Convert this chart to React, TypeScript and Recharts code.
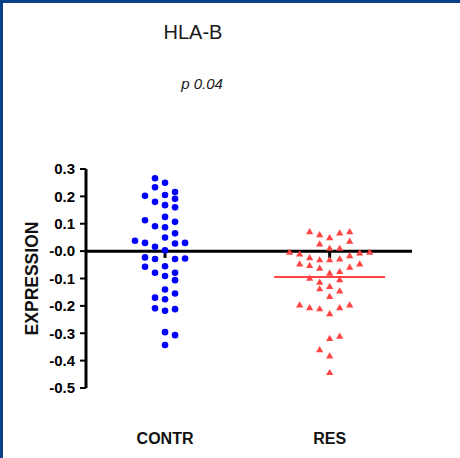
import React from "react";
import {
  ReferenceLine,
  Scatter,
  ScatterChart,
  XAxis,
  YAxis,
} from "recharts";

const categories = ["CONTR", "RES"];

// expression values
const contrValues = [
  0.266, 0.25, 0.233, 0.202, 0.205, 0.216, 0.18, 0.168, 0.191, 0.16, 0.113,
  0.091, 0.125, 0.087, 0.107, 0.065, 0.05, 0.038, 0.03, 0.016, 0.028, 0.03,
  0.003, -0.023, -0.029, -0.029, -0.027, -0.057, -0.055, -0.079, -0.091,
  -0.079, -0.106, -0.14, -0.155, -0.17, -0.176, -0.209, -0.218, -0.212,
  -0.296, -0.307, -0.343,
];
// column slot of each point inside the scatter (left/right of centre)
const contrSlots = [
  -1, 0, -1, -2, 0, 1, -1, 0, 1, 1, -2, -1, 0, 0, 1, 1, 0, -3, -2, -1, 1, 2,
  0, -2, -1, 1, 2, -2, 0, -1, 0, 1, 1, 0, 1, -1, 0, -1, 0, 1, 0, 1, 0,
];

const resValues = [
  0.073, 0.062, 0.051, 0.068, 0.073, 0.028, 0.038, 0.012, 0.012, -0.002,
  -0.009, -0.022, -0.03, -0.03, -0.027, -0.015, -0.005, -0.002, -0.045,
  -0.051, -0.061, -0.073, -0.057, -0.045, -0.079, -0.097, -0.112, -0.127,
  -0.103, -0.136, -0.144, -0.164, -0.195, -0.205, -0.209, -0.227, -0.205,
  -0.195, -0.317, -0.309, -0.358, -0.381, -0.442,
];
const resSlots = [
  -2, -1, 0, 1, 2, -1, 2, 0, 1, -4, -3, -2, -1, 0, 1, 2, 3, 4, -3, -2, -1, 1,
  2, 3, 0, -2, -1, 0, 1, -1, 1, 0, -3, -2, -1, 0, 1, 2, 0, 1, -1, 0, 0,
];

const yTicks = [0.3, 0.2, 0.1, 0, -0.1, -0.2, -0.3, -0.4, -0.5];

const SLOT = 0.0608;
const FONT = "'Liberation Sans', Arial, Helvetica, sans-serif";

const contrData = contrValues.map((v, i) => ({ x: 1 + contrSlots[i] * SLOT, y: v }));
const resData = resValues.map((v, i) => ({ x: 2 + resSlots[i] * SLOT, y: v }));
const resMean = resValues.reduce((a, b) => a + b, 0) / resValues.length;

const Triangle = (props: any) => {
  const { cx, cy } = props;
  if (cx == null || cy == null) return null;
  return (
    <polygon
      points={`${cx},${cy - 3.2} ${cx + 3.6},${cy + 3} ${cx - 3.6},${cy + 3}`}
      fill="#ff4444"
    />
  );
};

const Dot = (props: any) => {
  const { cx, cy } = props;
  if (cx == null || cy == null) return null;
  return <circle cx={cx} cy={cy} r={3.3} fill="#0000ff" />;
};

const CategoryTick = (props: any) => {
  const { x, y, payload } = props;
  return (
    <text
      x={x}
      y={y + 56}
      textAnchor="middle"
      fontFamily={FONT}
      fontWeight="bold"
      fontSize={16}
      fill="#111"
    >
      {categories[payload.value - 1]}
    </text>
  );
};

const AxisTitle = (props: any) => {
  const { viewBox } = props;
  const cx = viewBox.x + 32;
  const cy = viewBox.y + viewBox.height / 2;
  return (
    <text
      x={cx}
      y={cy}
      transform={`rotate(-90, ${cx}, ${cy})`}
      textAnchor="middle"
      dominantBaseline="central"
      fontFamily={FONT}
      fontWeight="bold"
      fontSize={17.5}
      fill="#111"
    >
      EXPRESSION
    </text>
  );
};

export default function App() {
  return (
    <div
      style={{
        position: "absolute",
        left: 0,
        top: 0,
        width: 460,
        height: 458,
        background: "#fff",
        overflow: "hidden",
      }}
    >
      <div style={{ position: "absolute", left: 0, top: 0, width: 460, height: 3, background: "#0b3f86" }} />
      <div style={{ position: "absolute", left: 0, top: 0, width: 3, height: 458, background: "#0b3f86" }} />
      <div
        style={{
          position: "absolute",
          left: 143,
          top: 22,
          width: 100,
          textAlign: "center",
          fontFamily: FONT,
          fontSize: 20,
          lineHeight: "20px",
          color: "#1a1a1a",
        }}
      >
        HLA-B
      </div>
      <div
        style={{
          position: "absolute",
          left: 152,
          top: 76,
          width: 100,
          textAlign: "center",
          fontFamily: FONT,
          fontSize: 15,
          fontStyle: "italic",
          lineHeight: "15px",
          color: "#1a1a1a",
        }}
      >
        p 0.04
      </div>
      <div style={{ position: "absolute", left: 0, top: 0 }}>
        <ScatterChart
          width={460}
          height={458}
          margin={{ top: 169, right: 48, bottom: 0, left: 0 }}
        >
          <XAxis
            type="number"
            dataKey="x"
            domain={[0.52, 2.5]}
            ticks={[1, 2]}
            axisLine={false}
            tickLine={false}
            tickSize={0}
            tickMargin={0}
            height={70}
            tick={<CategoryTick />}
          />
          <YAxis
            type="number"
            dataKey="y"
            domain={[-0.5, 0.3]}
            ticks={yTicks}
            width={86}
            axisLine={{ stroke: "#000", strokeWidth: 3 }}
            tickLine={{ stroke: "#000", strokeWidth: 2 }}
            tickSize={6}
            tickMargin={5}
            tick={{ fill: "#000", fontFamily: FONT, fontWeight: "bold", fontSize: 15 }}
            tickFormatter={(v: number) => (v === 0 ? "-0.0" : v.toFixed(1))}
            label={<AxisTitle />}
          />
          <ReferenceLine y={0} stroke="#000" strokeWidth={3} />
          <ReferenceLine
            segment={[{ x: 1, y: 0 }, { x: 1, y: -0.025 }]}
            stroke="#000"
            strokeWidth={3}
          />
          <ReferenceLine
            segment={[{ x: 2, y: 0 }, { x: 2, y: -0.025 }]}
            stroke="#000"
            strokeWidth={3}
          />
          <Scatter data={contrData} shape={<Dot />} isAnimationActive={false} />
          <Scatter data={resData} shape={<Triangle />} isAnimationActive={false} />
          <ReferenceLine
            segment={[{ x: 1.663, y: resMean }, { x: 2.337, y: resMean }]}
            stroke="#ff4444"
            strokeWidth={2}
          />
        </ScatterChart>
      </div>
    </div>
  );
}
